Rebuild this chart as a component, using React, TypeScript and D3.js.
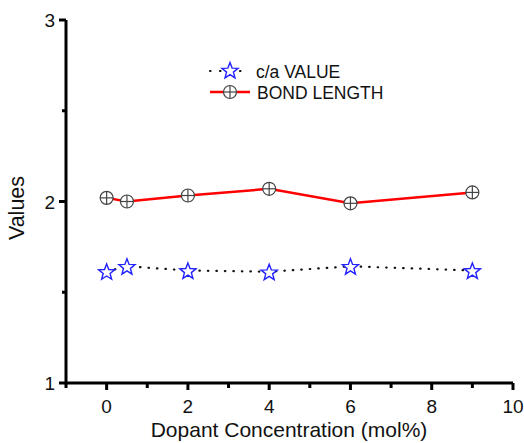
import React from "react";
import * as d3 from "d3";

const concentrations = [0, 0.5, 2, 4, 6, 9];
const bondLength = [2.02, 2.0, 2.033, 2.07, 1.99, 2.05];
const caValue = [1.615, 1.643, 1.62, 1.613, 1.643, 1.62];
const xMajorTicks = [0, 2, 4, 6, 8, 10];
const xMinorTicks = [-1, 1, 3, 5, 7, 9];
const yMajorTicks = [1, 2, 3];
const yMinorTicks = [1.5, 2.5];

const W = 524;
const H = 443;

function starPath(outer: number, inner: number) {
  const pts: [number, number][] = d3.range(10).map((k) => {
    const r = k % 2 === 0 ? outer : inner;
    const a = -Math.PI / 2 + (k * Math.PI) / 5;
    return [r * Math.cos(a), r * Math.sin(a)];
  });
  return (d3.line()(pts) || "") + "Z";
}

export default function App() {
  const x = d3.scaleLinear().domain([-1, 10]).range([66, 513]);
  const y = d3.scaleLinear().domain([1, 3]).range([383, 20]);
  const line = d3
    .line<number>()
    .x((_, i) => x(concentrations[i]))
    .y((d) => y(d));
  const star = starPath(8.5, 3.6);
  const font = "Liberation Sans, Arial, sans-serif";
  const pts = concentrations.map((c, i) => ({ c, b: bondLength[i], s: caValue[i] }));

  const Cross = ({ cx, cy }: { cx: number; cy: number }) => (
    <g transform={`translate(${cx},${cy})`} stroke="#444" strokeWidth={1.2} fill="none">
      <circle r={6.5} fill="white" />
      <line x1={-6.5} x2={6.5} y1={0} y2={0} />
      <line x1={0} x2={0} y1={-6.5} y2={6.5} />
    </g>
  );

  return (
    <svg width={W} height={H} style={{ position: "absolute", left: 0, top: 0 }}>
      <rect width={W} height={H} fill="white" />
      {/* data */}
      <path d={line(caValue) || ""} fill="none" stroke="#111" strokeWidth={2.2} strokeDasharray="0.5 8" strokeLinecap="round" />
      <path d={line(bondLength) || ""} fill="none" stroke="#ff0000" strokeWidth={2.5} />
      {pts.map((p, i) => (
        <Cross key={"b" + i} cx={x(p.c)} cy={y(p.b)} />
      ))}
      {pts.map((p, i) => (
        <path
          key={"s" + i}
          d={star}
          transform={`translate(${x(p.c)},${y(p.s) + 1})`}
          fill="white"
          stroke="#2222ff"
          strokeWidth={1.4}
          strokeLinejoin="miter"
        />
      ))}
      {/* axes */}
      <line x1={x(-1)} x2={x(10)} y1={y(1)} y2={y(1)} stroke="black" strokeWidth={3} />
      <line x1={x(-1)} x2={x(-1)} y1={y(1) + 1.5} y2={y(3)} stroke="black" strokeWidth={3} />
      {xMajorTicks.map((t) => (
        <g key={"xm" + t}>
          <line x1={x(t)} x2={x(t)} y1={y(1)} y2={y(1) + 7} stroke="black" strokeWidth={3} />
          <text x={x(t)} y={y(1) + 30} textAnchor="middle" fontFamily={font} fontSize={19} fill="#111">
            {t}
          </text>
        </g>
      ))}
      {xMinorTicks.map((t) => (
        <line key={"xn" + t} x1={x(t)} x2={x(t)} y1={y(1)} y2={y(1) + 5} stroke="black" strokeWidth={3} />
      ))}
      {yMajorTicks.map((t) => (
        <g key={"ym" + t}>
          <line x1={x(-1) - 7} x2={x(-1)} y1={y(t)} y2={y(t)} stroke="black" strokeWidth={3} />
          <text x={x(-1) - 11} y={y(t) + 7} textAnchor="end" fontFamily={font} fontSize={19} fill="#111">
            {t}
          </text>
        </g>
      ))}
      {yMinorTicks.map((t) => (
        <line key={"yn" + t} x1={x(-1) - 4} x2={x(-1)} y1={y(t)} y2={y(t)} stroke="black" strokeWidth={3} />
      ))}
      <text x={289} y={437} textAnchor="middle" fontFamily={font} fontSize={21} fill="#111">
        Dopant Concentration (mol%)
      </text>
      <text
        transform={`translate(24,${208}) rotate(-90)`}
        textAnchor="middle"
        fontFamily={font}
        fontSize={21.5}
        fill="#111"
      >
        Values
      </text>
      {/* legend */}
      <line x1={210} x2={250} y1={71} y2={71} stroke="#111" strokeWidth={2.2} strokeDasharray="0.5 9.5" strokeLinecap="round" />
      <path d={star} transform="translate(230,71)" fill="white" stroke="#2222ff" strokeWidth={1.4} />
      <text x={256} y={78} fontFamily={font} fontSize={17.5} fill="#111">
        c/a VALUE
      </text>
      <line x1={210} x2={250} y1={92} y2={92} stroke="#ff0000" strokeWidth={2.5} />
      <Cross cx={230} cy={92} />
      <text x={257} y={99} fontFamily={font} fontSize={17.5} fill="#111">
        BOND LENGTH
      </text>
    </svg>
  );
}
